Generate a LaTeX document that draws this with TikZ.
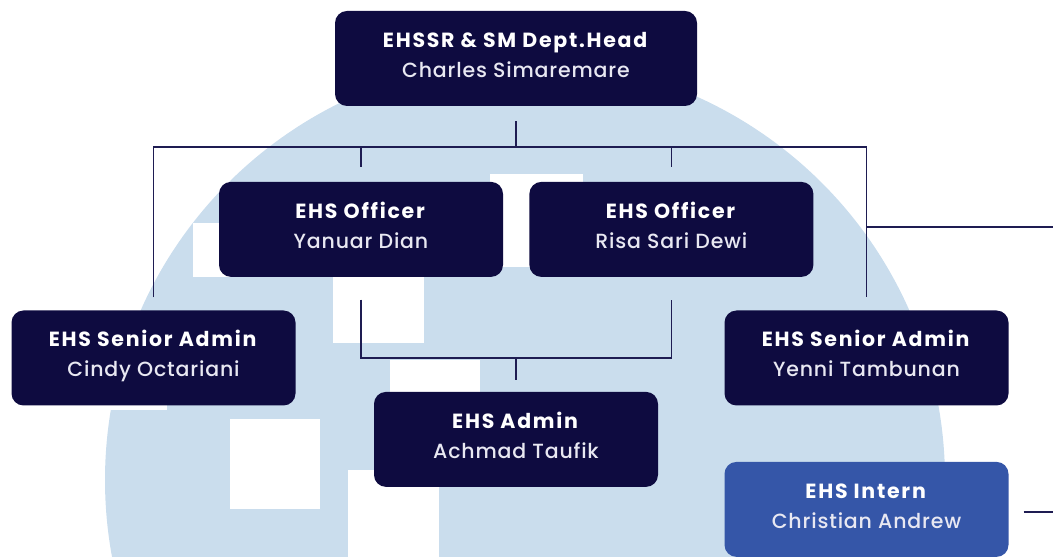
\documentclass[tikz,border=0pt]{standalone}
\usepackage{fontspec}
\setmainfont{Poppins}[LetterSpace=6, BoldFeatures={LetterSpace=8.5}]
\newfontfamily\namefont{Poppins Medium}[LetterSpace=4]
\usetikzlibrary{positioning, calc}
\definecolor{ehsnavy}{RGB}{14,11,64}
\definecolor{ehsblue}{RGB}{53,86,168}
\definecolor{ehsline}{RGB}{30,28,82}
\definecolor{ehscircle}{RGB}{202,221,237}
\definecolor{ehsname}{RGB}{232,232,242}
\tikzset{
  % Org chart box (parameterized by fill color)
  orgbox/.style={
    rectangle, rounded corners=12pt, minimum width=284pt, minimum height=95pt,
    inner sep=0pt, fill=#1, text=white,
    font=\fontsize{20.5}{30}\selectfont
  },
  orgbox/.default=ehsnavy,
  orgline/.style={line width=1.8pt, color=ehsline},
  bgsquare/.style={fill=white, draw=none}
}
\newcommand{\orgtext}[2]{%
  \begin{tabular}{@{}c@{}}\textbf{#1}\\{\namefont\color{ehsname}#2}\rule[-13pt]{0pt}{0pt}\end{tabular}}

\begin{document}
\begin{tikzpicture}[x=1pt, y=1pt]
  \useasboundingbox (0,0) rectangle (1053,557);

  % Background circle with white squares
  \begin{scope}
    \clip (0,0) rectangle (1053,557);
    \fill[ehscircle] (525,77) circle[radius=420];
    \foreach \sx/\sy/\sw/\sh in {490/290/93/93, 333/214/91/91, 390/107/90/90,
                                 230/48/90/90, 348/-3/91/90, 193/280/90/54, 75/147/92/92}
      \fill[bgsquare] (\sx,\sy) rectangle ++(\sw,\sh);
  \end{scope}

  % Department head
  \node[orgbox, minimum width=362pt] (head) at (516,498.5) {\orgtext{EHSSR \& SM Dept.Head}{Charles Simaremare}};

  % Officers
  \node[orgbox, below=75.5pt of head, xshift=-155pt] (yanuar) {\orgtext{EHS Officer}{Yanuar Dian}};
  \node[orgbox, right=26pt of yanuar] (risa) {\orgtext{EHS Officer}{Risa Sari Dewi}};

  % Senior admins
  \node[orgbox] (cindy) at (153.5,199) {\orgtext{EHS Senior Admin}{Cindy Octariani}};
  \node[orgbox] (yenni) at (866.5,199) {\orgtext{EHS Senior Admin}{Yenni Tambunan}};

  % Admin
  \node[orgbox, below=285.5pt of head] (admin) {\orgtext{EHS Admin}{Achmad Taufik}};

  % Intern
  \node[orgbox=ehsblue, below=56pt of yenni] (intern) {\orgtext{EHS Intern}{Christian Andrew}};

  % Lines from the head
  \coordinate (bus) at ($(head.south)+(0,-41)$);
  \draw[orgline] ([yshift=-15pt]head.south) -- (bus);
  \draw[orgline] ([yshift=13pt]cindy.north) |- (bus) -| ([yshift=13pt]yenni.north);
  \draw[orgline] (bus -| yanuar) -- ([yshift=14.5pt]yanuar.north);
  \draw[orgline] (bus -| risa) -- ([yshift=14.5pt]risa.north);

  % Branch to the right
  \coordinate (outR) at (1053,330);
  \draw[orgline] (outR -| yenni) -- (outR);

  % Officers to admin
  \coordinate (join) at ($(admin.north)+(0,34)$);
  \draw[orgline] ([yshift=-22.5pt]yanuar.south) |- (join) -| ([yshift=-22.5pt]risa.south);
  \draw[orgline] (join) -- ([yshift=11.5pt]admin.north);

  % Intern line
  \coordinate (outI) at (1053,45);
  \draw[orgline] ($(intern.east |- outI)+(15,0)$) -- (outI);
\end{tikzpicture}
\end{document}
